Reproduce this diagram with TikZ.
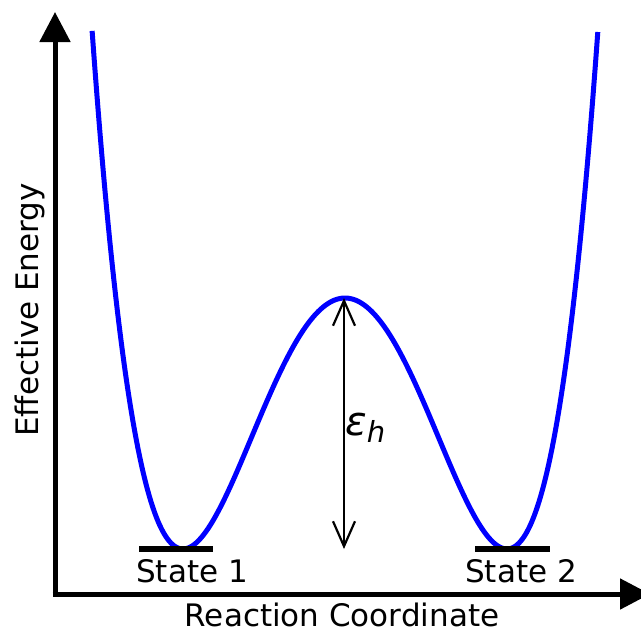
\documentclass[tikz,border=0pt]{standalone}
\usepackage{fontspec}
\setmainfont{DejaVu Sans}
\usetikzlibrary{arrows.meta}
\begin{document}
\begin{tikzpicture}[x=1pt,y=-1pt,
  axis/.style={line width=5pt, -{Triangle[length=30pt,width=30pt]}},
  well/.style={blue, line width=5pt},
  level/.style={line width=5.5pt},
  lbl/.style={font=\fontsize{31}{37}\selectfont, inner sep=0pt},
  gap/.style={line width=2.2pt, {Straight Barb[length=25pt,width=22pt]}-{Straight Barb[length=25pt,width=22pt]}}]
\useasboundingbox (0,0) rectangle (641,630);
\clip (0,0) rectangle (641,630);
\coordinate (O) at (55,594);
\coordinate (Y) at (55,12);
\coordinate (X) at (650,594);
\draw[axis] ([xshift=-2.5pt]O) -- (X);
\draw[axis] ([yshift=-2.5pt]O) -- (Y);
\draw[well] plot[domain=-1.561:1.561, samples=200, smooth]
  ({345+162*\x}, {549-251*(\x*\x-1)*(\x*\x-1)});
\coordinate (L1a) at (139,549);
\coordinate (L1b) at (213,549);
\coordinate (L2a) at (475,549);
\coordinate (L2b) at (550,549);
\draw[level] (L1a) -- (L1b);
\draw[level] (L2a) -- (L2b);
\coordinate (peak) at (344,298);
\coordinate (base) at (344,549);
\draw[gap] (peak) -- (base);
\node[lbl, anchor=base] (s1) at (192,582) {State 1};
\node[lbl, anchor=base] (s2) at (521,582) {State 2};
\node[lbl, anchor=base, text depth=0pt] (xl) at (342,626) {Reaction Coordinate};
\node[lbl, anchor=base, rotate=90] (yl) at (38,310) {Effective Energy};
\node[anchor=base west, inner sep=0pt] (eps) at (345,435)
  {\fontsize{40}{48}\selectfont\itshape ε\raisebox{-7pt}{\fontsize{29}{34}\selectfont h}};
\end{tikzpicture}
\end{document}
